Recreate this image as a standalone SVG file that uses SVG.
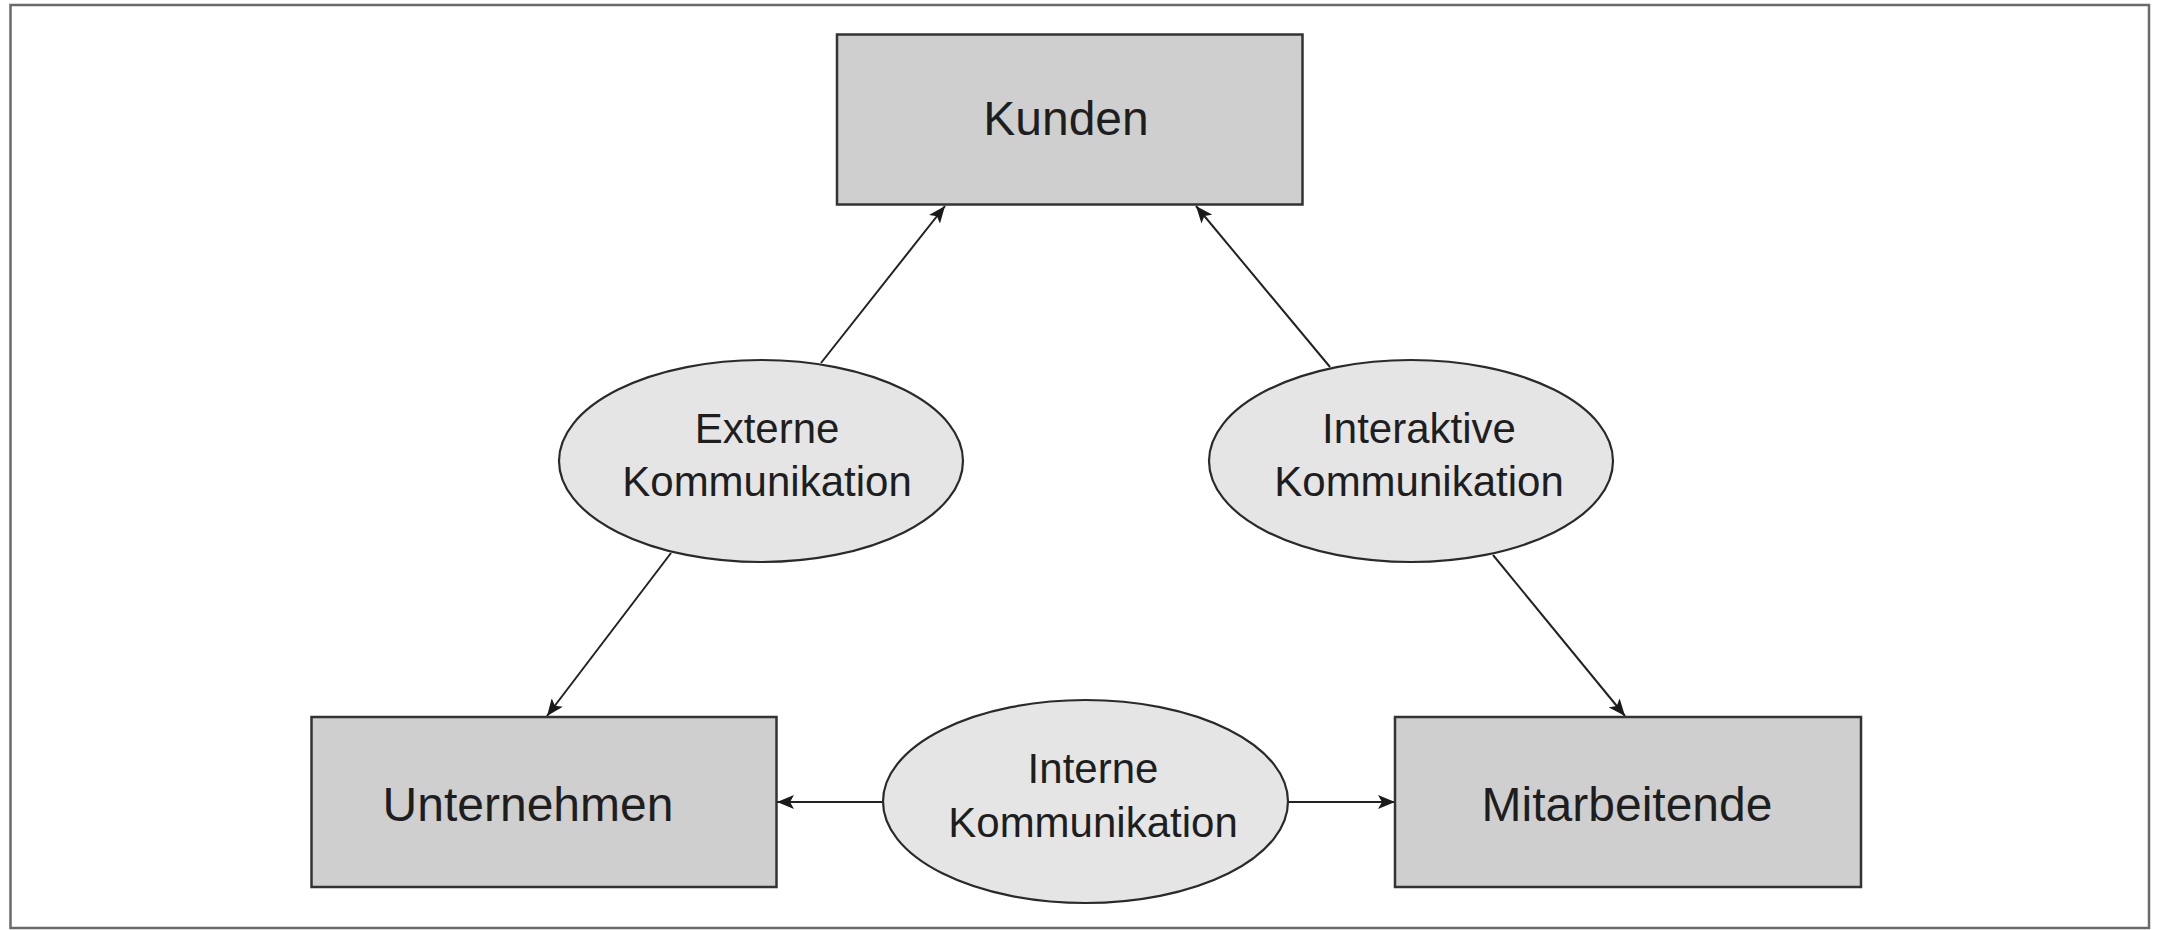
<svg xmlns="http://www.w3.org/2000/svg" width="2158" height="930" viewBox="0 0 2158 930">
<style>
.box{fill:#cfcfcf;stroke:#333;stroke-width:2.5}
.ell{fill:#e5e5e5;stroke:#2a2a2a;stroke-width:2.2}
.lbl{font-family:"Liberation Sans",Arial,sans-serif;fill:#1e1e1e;text-anchor:middle}
.big{font-size:48px}
.sm{font-size:42px}
.con{stroke:#222;stroke-width:2;fill:none;marker-end:url(#arr)}
</style>
<defs>
<marker id="arr" viewBox="0 0 18 14" refX="17" refY="7" markerWidth="18" markerHeight="14" markerUnits="userSpaceOnUse" orient="auto">
<path d="M0,0 L17,7 L0,14 L4,7 z" fill="#1a1a1a"/>
</marker>
</defs>
<rect x="0" y="0" width="2158" height="930" fill="#fff"/>
<rect x="10.5" y="5" width="2138.5" height="923" fill="none" stroke="#6a6a6a" stroke-width="2.5"/>
<g id="connectors">
<line class="con" x1="821" y1="363" x2="945" y2="206"/>
<line class="con" x1="671" y1="553" x2="547" y2="716"/>
<line class="con" x1="1330" y1="367" x2="1196" y2="206"/>
<line class="con" x1="1493" y1="555" x2="1625" y2="716"/>
<line class="con" x1="883" y1="802" x2="777" y2="802"/>
<line class="con" x1="1288" y1="802" x2="1395" y2="802"/>
</g>
<g id="kunden">
<rect class="box" x="837" y="34.5" width="465.5" height="170"/>
<text class="lbl big" x="1066" y="135">Kunden</text>
</g>
<g id="unternehmen">
<rect class="box" x="311.5" y="717" width="465" height="170"/>
<text class="lbl big" x="528" y="821">Unternehmen</text>
</g>
<g id="mitarbeitende">
<rect class="box" x="1395" y="717" width="466" height="170"/>
<text class="lbl big" x="1627" y="821">Mitarbeitende</text>
</g>
<g id="externe">
<ellipse class="ell" cx="761" cy="461" rx="202" ry="101"/>
<text class="lbl sm" x="767" y="443">Externe</text>
<text class="lbl sm" x="767" y="496">Kommunikation</text>
</g>
<g id="interaktive">
<ellipse class="ell" cx="1411" cy="461" rx="202" ry="101"/>
<text class="lbl sm" x="1419" y="443">Interaktive</text>
<text class="lbl sm" x="1419" y="496">Kommunikation</text>
</g>
<g id="interne">
<ellipse class="ell" cx="1085.5" cy="801.5" rx="202.5" ry="101.5"/>
<text class="lbl sm" x="1093" y="783">Interne</text>
<text class="lbl sm" x="1093" y="837">Kommunikation</text>
</g>
</svg>
